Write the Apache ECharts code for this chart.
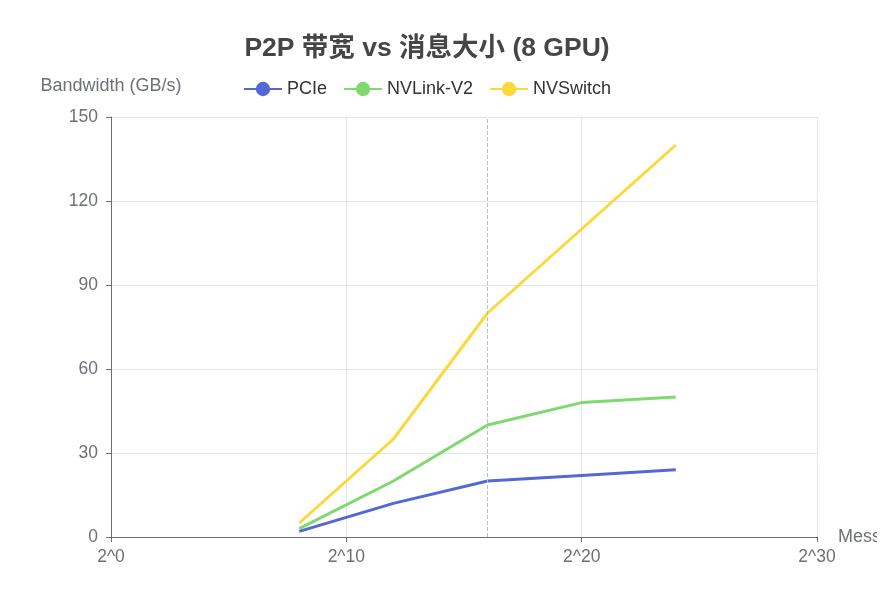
<!DOCTYPE html>
<html>
<head>
<meta charset="utf-8">
<script src="https://cdn.jsdelivr.net/npm/echarts@6/dist/echarts.min.js"></script>
<style>
html,body{margin:0;padding:0;background:#fff;}
#main{width:877px;height:613px;}
</style>
</head>
<body>
<div id="main"></div>
<script>
const messageSizes = [256, 4096, 65536, 1048576, 16777216];
const pcie = [2, 12, 20, 22, 24];
const nvlink = [3, 20, 40, 48, 50];
const nvswitch = [5, 35, 80, 110, 140];
const seriesNames = ['PCIe', 'NVLink-V2', 'NVSwitch'];
const seriesColors = ['#5468d6', '#7fd96f', '#fdd83a'];
const markX = 65536;

function pairs(vals) { return messageSizes.map((x, i) => [x, vals[i]]); }

const chart = echarts.init(document.getElementById('main'));
const fontFamily = '"Helvetica Neue", Arial, "Liberation Sans", "Noto Sans CJK SC", sans-serif';
chart.setOption({
  textStyle: { fontFamily: fontFamily },
  color: seriesColors,
  title: {
    text: 'P2P 带宽 vs 消息大小 (8 GPU)',
    left: 422, top: 30, textAlign: 'center',
    textStyle: { fontSize: 26.5, fontWeight: 'bold', color: '#464646', fontFamily: fontFamily }
  },
  legend: {
    data: seriesNames,
    left: 238, top: 75,
    itemWidth: 38, itemHeight: 18, itemGap: 16,
    textStyle: { fontSize: 18, color: '#333' }
  },
  grid: { left: 111, right: 60, top: 117, bottom: 76, containLabel: false, outerBoundsMode: 'none' },
  xAxis: {
    type: 'log', logBase: 2, min: 1, max: Math.pow(2, 30), interval: 10,
    name: 'Message Size (Bytes)', nameLocation: 'end', nameGap: 21,
    nameTextStyle: { fontSize: 18, color: '#6E7079' },
    axisLine: { show: true, lineStyle: { color: '#6E7079' } },
    axisTick: { show: true },
    axisLabel: { fontSize: 17.5, color: '#6E7079', margin: 11,
      formatter: v => '2^' + Math.round(Math.log2(v)) },
    splitLine: { show: true, lineStyle: { color: '#E0E6F1' } },
    minorSplitLine: { show: false }
  },
  yAxis: {
    type: 'value', min: 0, max: 150, interval: 30,
    name: 'Bandwidth (GB/s)', nameLocation: 'end', nameGap: 22,
    nameTextStyle: { fontSize: 18, color: '#6E7079', align: 'center' },
    axisLine: { show: true, lineStyle: { color: '#6E7079' } },
    axisTick: { show: true },
    axisLabel: { fontSize: 17.5, color: '#6E7079', margin: 13 },
    splitLine: { show: true, lineStyle: { color: '#E0E6F1' } }
  },
  series: [
    { name: seriesNames[0], type: 'line', data: pairs(pcie), showSymbol: false, symbol: 'circle', symbolSize: 8,
      lineStyle: { width: 3 },
      markLine: { silent: true, symbol: 'none', label: { show: false },
        lineStyle: { color: '#B9BEC9', type: 'dashed', width: 1 },
        data: [{ xAxis: markX }] } },
    { name: seriesNames[1], type: 'line', data: pairs(nvlink), showSymbol: false, symbol: 'circle', symbolSize: 8,
      lineStyle: { width: 3 } },
    { name: seriesNames[2], type: 'line', data: pairs(nvswitch), showSymbol: false, symbol: 'circle', symbolSize: 8,
      lineStyle: { width: 3 } }
  ]
});
</script>
</body>
</html>
